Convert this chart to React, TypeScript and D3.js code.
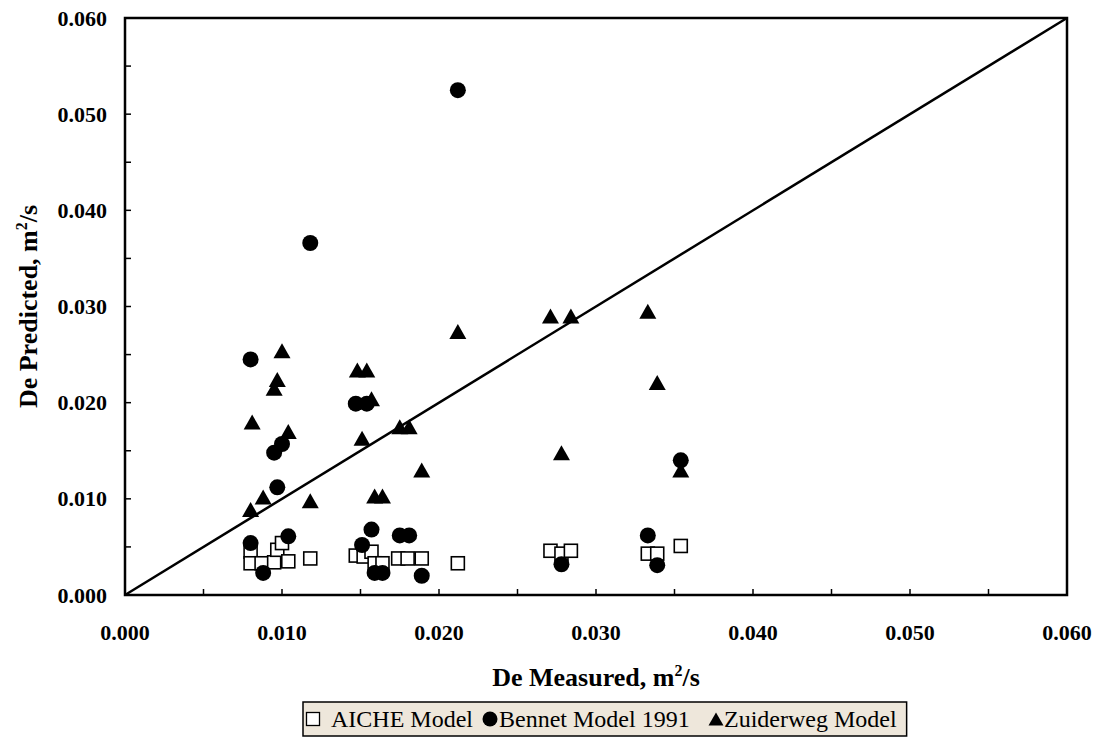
import React, { useEffect, useRef } from "react";
import * as d3 from "d3";

// Axial dispersion coefficient: measured vs predicted (m²/s)
const aicheX = [0.0080, 0.0080, 0.0087, 0.0095, 0.0097, 0.0100, 0.0104, 0.0118, 0.0147, 0.0152, 0.0157, 0.0159, 0.0164, 0.0174, 0.0180, 0.0189, 0.0212, 0.0271, 0.0278, 0.0284, 0.0333, 0.0339, 0.0354];
const aicheY = [0.0045, 0.0033, 0.0033, 0.0034, 0.0047, 0.0054, 0.0035, 0.0038, 0.0041, 0.0040, 0.0045, 0.0033, 0.0033, 0.0038, 0.0038, 0.0038, 0.0033, 0.0046, 0.0043, 0.0046, 0.0043, 0.0043, 0.0051];

const bennetX = [0.0080, 0.0080, 0.0088, 0.0095, 0.0097, 0.0100, 0.0104, 0.0118, 0.0147, 0.0154, 0.0151, 0.0157, 0.0159, 0.0164, 0.0175, 0.0181, 0.0189, 0.0212, 0.0278, 0.0333, 0.0339, 0.0354];
const bennetY = [0.0245, 0.0054, 0.0023, 0.0148, 0.0112, 0.0157, 0.0061, 0.0366, 0.0199, 0.0199, 0.0052, 0.0068, 0.0023, 0.0023, 0.0062, 0.0062, 0.0020, 0.0525, 0.0032, 0.0062, 0.0031, 0.0140];

const zuiderwegX = [0.0080, 0.0081, 0.0088, 0.0095, 0.0097, 0.0100, 0.0104, 0.0118, 0.0148, 0.0154, 0.0151, 0.0157, 0.0159, 0.0164, 0.0175, 0.0181, 0.0189, 0.0212, 0.0271, 0.0278, 0.0284, 0.0333, 0.0339, 0.0354];
const zuiderwegY = [0.0089, 0.0180, 0.0102, 0.0215, 0.0224, 0.0254, 0.0170, 0.0098, 0.0234, 0.0234, 0.0163, 0.0204, 0.0103, 0.0103, 0.0175, 0.0175, 0.0130, 0.0274, 0.0290, 0.0148, 0.0290, 0.0295, 0.0221, 0.0130];

const axisTicks = [0, 0.01, 0.02, 0.03, 0.04, 0.05, 0.06];
const seriesNames = ["AICHE Model", "Bennet Model 1991", "Zuiderweg Model"];

const W = 1099;
const H = 738;
const plot = { left: 125, right: 1067, top: 18, bottom: 595 };
const serif = "'Liberation Serif', 'Times New Roman', serif";

// legend entry anchors: symbol centre and text start
const legendLeft = 303;
const legendSymbolX = [313, 490, 716];
const legendTextX = [331, 499, 724];

export default function App() {
  const ref = useRef<SVGSVGElement>(null);

  useEffect(() => {
    const svg = d3.select(ref.current);
    svg.selectAll("*").remove();

    const x = d3.scaleLinear().domain([0, 0.06]).range([plot.left, plot.right]);
    const y = d3.scaleLinear().domain([0, 0.06]).range([plot.bottom, plot.top]);

    svg.append("rect").attr("width", W).attr("height", H).attr("fill", "#fff");

    // ticks every 0.005, pointing inward
    const tickVals = d3.range(0, 0.0601, 0.005).slice(1, -1);
    const g = svg.append("g");
    g.selectAll("line.xt").data(tickVals).join("line")
      .attr("x1", (d) => x(d)).attr("x2", (d) => x(d))
      .attr("y1", plot.bottom).attr("y2", plot.bottom - 6)
      .attr("stroke", "#000").attr("stroke-width", 1.5);
    g.selectAll("line.yt").data(tickVals).join("line")
      .attr("x1", plot.left).attr("x2", plot.left + 6)
      .attr("y1", (d) => y(d)).attr("y2", (d) => y(d))
      .attr("stroke", "#000").attr("stroke-width", 1.5);

    // parity line
    svg.append("line")
      .attr("x1", x(0)).attr("y1", y(0)).attr("x2", x(0.06)).attr("y2", y(0.06))
      .attr("stroke", "#000").attr("stroke-width", 2.5);

    // frame
    svg.append("rect")
      .attr("x", plot.left).attr("y", plot.top)
      .attr("width", plot.right - plot.left).attr("height", plot.bottom - plot.top)
      .attr("fill", "none").attr("stroke", "#000").attr("stroke-width", 2.5);

    // tick labels
    const fmt = d3.format(".3f");
    svg.selectAll("text.xl").data(axisTicks).join("text")
      .attr("x", (d) => x(d)).attr("y", 640)
      .attr("text-anchor", "middle")
      .attr("font-family", serif).attr("font-weight", "bold").attr("font-size", 22)
      .text((d) => fmt(d));
    svg.selectAll("text.yl").data(axisTicks).join("text")
      .attr("x", 107).attr("y", (d) => y(d) + 7.5)
      .attr("text-anchor", "end")
      .attr("font-family", serif).attr("font-weight", "bold").attr("font-size", 22)
      .text((d) => fmt(d));

    // axis titles
    const xt = svg.append("text")
      .attr("x", (plot.left + plot.right) / 2).attr("y", 686)
      .attr("text-anchor", "middle")
      .attr("font-family", serif).attr("font-weight", "bold").attr("font-size", 26);
    xt.append("tspan").text("De Measured, m");
    xt.append("tspan").attr("font-size", 16).attr("dy", -10).text("2");
    xt.append("tspan").attr("dy", 10).text("/s");

    const yt = svg.append("text")
      .attr("transform", `translate(37,${(plot.top + plot.bottom) / 2}) rotate(-90)`)
      .attr("text-anchor", "middle")
      .attr("font-family", serif).attr("font-weight", "bold").attr("font-size", 26);
    yt.append("tspan").text("De Predicted, m");
    yt.append("tspan").attr("font-size", 16).attr("dy", -10).text("2");
    yt.append("tspan").attr("dy", 10).text("/s");

    // markers
    const sq = 13;
    svg.append("g").selectAll("rect").data(aicheX).join("rect")
      .attr("x", (d) => x(d) - sq / 2)
      .attr("y", (_, i) => y(aicheY[i]) - sq / 2)
      .attr("width", sq).attr("height", sq)
      .attr("fill", "#fff").attr("stroke", "#000").attr("stroke-width", 1.6);

    svg.append("g").selectAll("circle").data(bennetX).join("circle")
      .attr("cx", (d) => x(d)).attr("cy", (_, i) => y(bennetY[i]))
      .attr("r", 8).attr("fill", "#000");

    const tri = (cx: number, cy: number, w: number, h: number) =>
      `M${cx},${cy - h / 2}L${cx + w / 2},${cy + h / 2}L${cx - w / 2},${cy + h / 2}Z`;
    svg.append("g").selectAll("path").data(zuiderwegX).join("path")
      .attr("d", (d, i) => tri(x(d), y(zuiderwegY[i]), 17, 15))
      .attr("fill", "#000");

    // legend
    const lg = svg.append("g");
    const box = lg.append("rect")
      .attr("x", legendLeft).attr("y", 702).attr("height", 34)
      .attr("fill", "#EEE7DB").attr("stroke", "#000").attr("stroke-width", 1.5);
    const baseY = 727;
    const midY = 719;
    let end = legendLeft;
    seriesNames.forEach((name, i) => {
      const cx = legendSymbolX[i];
      if (i === 0) {
        lg.append("rect").attr("x", cx - 6.5).attr("y", midY - 6.5).attr("width", 13).attr("height", 13)
          .attr("fill", "#fff").attr("stroke", "#000").attr("stroke-width", 1.3);
      } else if (i === 1) {
        lg.append("circle").attr("cx", cx).attr("cy", midY).attr("r", 7.5).attr("fill", "#000");
      } else {
        lg.append("path").attr("d", tri(cx, midY, 15, 13)).attr("fill", "#000");
      }
      const t = lg.append("text")
        .attr("x", legendTextX[i]).attr("y", baseY)
        .attr("font-family", serif).attr("font-size", 24)
        .text(name);
      end = legendTextX[i] + (t.node() as SVGTextElement).getComputedTextLength();
    });
    box.attr("width", end + 10 - legendLeft);
  }, []);

  return (
    <svg
      ref={ref}
      width={W}
      height={H}
      style={{ position: "absolute", left: 0, top: 0, display: "block" }}
    />
  );
}
